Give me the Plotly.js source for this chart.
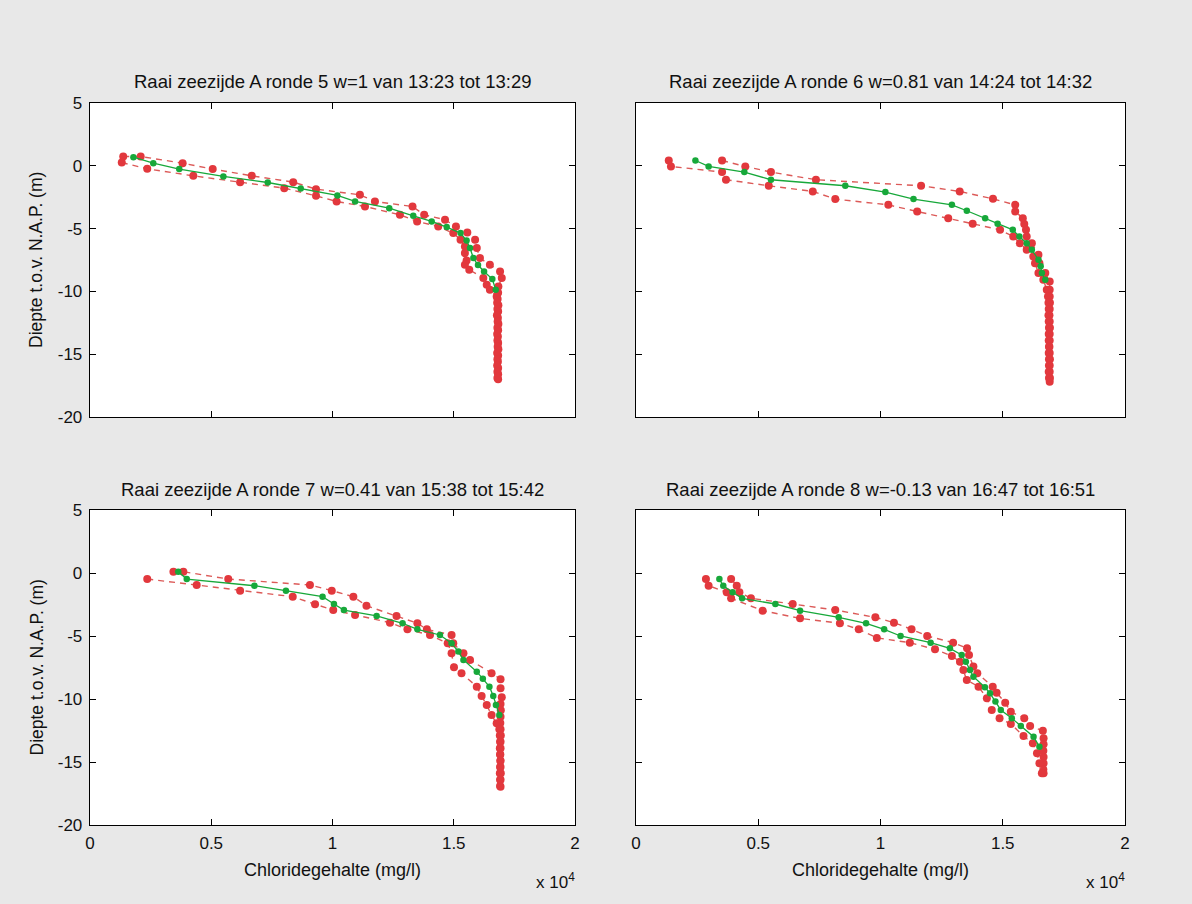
<!DOCTYPE html>
<html><head><meta charset="utf-8">
<script src="https://cdn.plot.ly/plotly-3.0.1.min.js"></script>
<style>html,body{margin:0;padding:0;background:#e8e8e8}</style>
</head><body>
<div id="chart" style="width:1192px;height:904px"></div>
<script>
// Depths (m t.o.v. N.A.P.) and chloride content (mg/l)
// Ronde 5
const r5_mean_cl = [1790,2610,3680,5500,7330,8690,10200,10930,12340,13330,14090,14710,15280,15530,15670,15810,16000,16250,16590,16730];
const r5_mean_d  = [0.69,0.21,-0.26,-0.85,-1.33,-1.81,-2.36,-2.84,-3.37,-3.98,-4.43,-4.88,-5.36,-5.95,-6.55,-7.35,-7.90,-8.41,-9.02,-9.87];
const r5_up_cl = [1370,2090,3820,5060,6670,8380,9320,11130,11750,13300,13780,14640,15090,15560,15880,15950,16080,16490,16910,16980,16840,16830,16810,16840,16830,16820,16840,16830,16820,16830,16840,16830,16820,16830,16830,16830];
const r5_up_d  = [0.74,0.74,0.21,-0.26,-0.80,-1.30,-1.86,-2.31,-2.84,-3.24,-3.90,-4.30,-4.83,-5.31,-5.89,-6.55,-7.35,-7.88,-8.41,-8.94,-9.61,-10.1,-10.6,-11.1,-11.6,-12.1,-12.6,-13.1,-13.6,-14.1,-14.6,-15.1,-15.6,-16.1,-16.6,-17.0];
const r5_lo_cl = [1310,2360,4260,6190,8010,9320,10170,11340,12780,13490,14360,14980,15280,15460,15460,15530,15460,15640,16220,16360,16490,16770,16790,16800,16780,16810,16800,16790,16800,16810,16790,16800,16790,16800,16800];
const r5_lo_d  = [0.26,-0.24,-0.80,-1.30,-1.78,-2.39,-2.84,-3.24,-3.90,-4.43,-4.83,-5.36,-5.89,-6.42,-6.95,-7.54,-7.88,-8.28,-8.94,-9.47,-9.87,-10.41,-10.9,-11.4,-11.9,-12.4,-12.9,-13.4,-13.9,-14.4,-14.9,-15.4,-15.9,-16.4,-16.9];
// Ronde 6
const r6_mean_cl = [2430,2970,4430,5520,8560,10200,11350,12920,13530,14280,14790,15410,15680,15980,16190,16460,16550,16600,16740];
const r6_mean_d  = [0.42,-0.05,-0.50,-1.11,-1.59,-2.09,-2.65,-3.11,-3.58,-4.17,-4.62,-5.10,-5.63,-6.16,-6.69,-7.48,-8.00,-8.54,-9.08];
const r6_up_cl = [3520,4470,5520,7360,11660,13240,14600,15510,15510,15820,15880,15950,15980,16190,16460,16500,16740,16920,16920,16920,16930,16920,16910,16920,16930,16920,16920,16910,16920,16930,16920,16920,16930,16920];
const r6_up_d  = [0.42,-0.05,-0.50,-1.11,-1.59,-2.04,-2.63,-3.11,-3.64,-4.17,-4.64,-5.10,-5.63,-6.16,-7.09,-7.75,-8.54,-9.21,-9.87,-10.4,-10.9,-11.4,-11.9,-12.4,-12.9,-13.4,-13.9,-14.4,-14.9,-15.4,-15.9,-16.4,-16.9,-17.2];
const r6_lo_cl = [1340,1430,3520,3680,5430,7230,8150,10320,11500,12770,13770,14890,15430,15700,15980,16250,16320,16460,16660,16800,16850,16870,16880,16870,16880,16890,16880,16880,16890,16880,16890,16890,16880,16890];
const r6_lo_d  = [0.42,-0.05,-0.50,-1.11,-1.59,-2.04,-2.65,-3.11,-3.64,-4.17,-4.62,-5.10,-5.63,-6.16,-6.69,-7.22,-7.75,-8.54,-9.08,-9.87,-10.4,-10.9,-11.4,-11.9,-12.4,-12.9,-13.4,-13.9,-14.4,-14.9,-15.4,-15.9,-16.4,-16.9];
// Ronde 7
const r7_mean_cl = [3640,3990,6780,8080,9590,10060,10470,11820,12890,13500,14430,14910,15190,15400,15950,16200,16470,16630,16740,16880];
const r7_mean_d  = [0.10,-0.48,-1.01,-1.40,-1.88,-2.46,-2.94,-3.41,-3.99,-4.47,-4.92,-5.58,-6.24,-6.90,-7.83,-8.40,-9.02,-9.76,-10.48,-11.27];
const r7_up_cl = [3440,3850,5700,9070,9970,10860,11400,12640,13500,13890,14910,14980,15400,15670,16560,16930,16930,16980,16930,16940,16930,16920,16930,16940,16930,16930,16920,16930,16930,16940,16930,16930];
const r7_up_d  = [0.10,0.10,-0.48,-0.95,-1.40,-1.88,-2.60,-3.41,-3.99,-4.47,-4.92,-5.58,-6.37,-6.90,-7.95,-8.43,-9.14,-9.86,-10.4,-10.9,-11.4,-11.9,-12.4,-12.9,-13.4,-13.9,-14.4,-14.9,-15.4,-15.9,-16.4,-16.96];
const r7_lo_cl = [2360,4400,6190,8360,9280,10030,10930,12370,13090,14020,14750,14910,15010,15320,15950,16150,16360,16560,16770,16880,16900,16910,16900,16910,16920,16910,16900,16910,16910];
const r7_lo_d  = [-0.48,-0.95,-1.40,-1.88,-2.48,-2.94,-3.33,-3.94,-4.47,-4.92,-5.58,-6.37,-7.48,-7.95,-9.02,-9.76,-10.48,-11.27,-11.93,-12.4,-12.9,-13.4,-13.9,-14.4,-14.9,-15.4,-15.9,-16.4,-16.9];
// Ronde 8
const r8_mean_cl = [3410,3570,3950,4340,5700,6710,8290,9410,10150,10820,12050,12840,13320,13490,13660,13800,14270,14480,14700,14920,15370,15740,16260,16500];
const r8_mean_d  = [-0.48,-1.01,-1.53,-2.01,-2.46,-2.99,-3.52,-3.99,-4.47,-5.00,-5.53,-5.98,-6.51,-7.04,-7.70,-8.23,-9.07,-9.55,-10.20,-10.87,-11.53,-12.14,-12.99,-13.78];
const r8_up_cl = [3890,4120,4230,4700,6410,8150,9790,10550,11270,11910,12970,13540,13620,13800,13960,14590,14750,15100,15330,15880,16120,16640,16670,16670,16660,16670,16670,16660,16670];
const r8_up_d  = [-0.48,-1.01,-1.53,-2.01,-2.46,-2.94,-3.52,-3.94,-4.47,-5.00,-5.53,-5.98,-6.51,-7.43,-7.96,-9.02,-9.50,-10.30,-11.01,-11.53,-12.14,-12.52,-13.12,-13.6,-14.1,-14.6,-15.1,-15.6,-15.9];
const r8_lo_cl = [2860,2970,3710,3890,5180,6710,8340,9110,9850,11200,12230,12920,13250,13390,13530,14010,14350,14550,14870,15330,15850,16230,16400,16500,16600];
const r8_lo_d  = [-0.48,-1.01,-1.53,-2.01,-2.99,-3.60,-3.99,-4.47,-5.15,-5.53,-6.06,-6.59,-7.04,-7.70,-8.49,-9.02,-9.94,-10.87,-11.53,-11.98,-12.94,-13.52,-14.31,-15.10,-15.90];

const panelTitles = [
  'Raai zeezijde A ronde 5 w=1 van 13:23 tot 13:29',
  'Raai zeezijde A ronde 6 w=0.81 van 14:24 tot 14:32',
  'Raai zeezijde A ronde 7 w=0.41 van 15:38 tot 15:42',
  'Raai zeezijde A ronde 8 w=-0.13 van 16:47 tot 16:51'
];
const xTickVals = [0,5000,10000,15000,20000];
const xTickText = ['0','0.5','1','1.5','2'];
const yTickVals = [-20,-15,-10,-5,0,5];
const yTickText = ['-20','-15','-10','-5','0','5'];
const yTitle = 'Diepte t.o.v. N.A.P. (m)';
const xTitle = 'Chloridegehalte (mg/l)';

const panels = [
  {up:[r5_up_cl,r5_up_d], lo:[r5_lo_cl,r5_lo_d], mean:[r5_mean_cl,r5_mean_d]},
  {up:[r6_up_cl,r6_up_d], lo:[r6_lo_cl,r6_lo_d], mean:[r6_mean_cl,r6_mean_d]},
  {up:[r7_up_cl,r7_up_d], lo:[r7_lo_cl,r7_lo_d], mean:[r7_mean_cl,r7_mean_d]},
  {up:[r8_up_cl,r8_up_d], lo:[r8_lo_cl,r8_lo_d], mean:[r8_mean_cl,r8_mean_d]}
];

const RED = '#e2383d', REDLINE = '#dc5a58', GREEN = '#17a83a';
const traces = [];
panels.forEach((p, i) => {
  const xa = i === 0 ? 'x' : 'x' + (i + 1);
  const ya = i === 0 ? 'y' : 'y' + (i + 1);
  [p.up, p.lo].forEach(s => traces.push({
    x: s[0], y: s[1], xaxis: xa, yaxis: ya, type: 'scatter', mode: 'lines+markers',
    line: {color: REDLINE, width: 1.4, dash: '6px,5px'},
    marker: {color: RED, size: 8}, showlegend: false, hoverinfo: 'x+y'
  }));
  traces.push({
    x: p.mean[0], y: p.mean[1], xaxis: xa, yaxis: ya, type: 'scatter', mode: 'lines+markers',
    line: {color: GREEN, width: 1.3},
    marker: {color: GREEN, size: 6.5}, showlegend: false, hoverinfo: 'x+y'
  });
});

const W = 1192, H = 904;
const boxes = [
  {l:90, r:575, t:103, b:417},
  {l:636, r:1125, t:103, b:417},
  {l:90, r:575, t:510, b:825},
  {l:636, r:1125, t:510, b:825}
];
const FONT = 'Liberation Sans, Arial, sans-serif';
const layout = {
  width: W, height: H,
  margin: {l:0, r:0, t:0, b:0},
  paper_bgcolor: '#e8e8e8', plot_bgcolor: '#ffffff',
  font: {family: FONT, size: 17, color: '#111'},
  showlegend: false,
  annotations: []
};
boxes.forEach((b, i) => {
  const sx = i === 0 ? 'xaxis' : 'xaxis' + (i + 1);
  const sy = i === 0 ? 'yaxis' : 'yaxis' + (i + 1);
  const ya = i === 0 ? 'y' : 'y' + (i + 1);
  const xa = i === 0 ? 'x' : 'x' + (i + 1);
  layout[sx] = {
    domain: [b.l / W, b.r / W], anchor: ya, range: [0, 20000],
    tickvals: xTickVals, ticktext: xTickText, ticks: 'inside', ticklen: 6,
    tickcolor: '#000', showline: true, linecolor: '#000', linewidth: 1.3,
    mirror: 'allticks', showgrid: false, zeroline: false,
    showticklabels: i >= 2, ticklabelstandoff: 2,
    tickfont: {family: FONT, size: 17, color: '#111'}
  };
  layout[sy] = {
    domain: [1 - b.b / H, 1 - b.t / H], anchor: xa, range: [-20, 5],
    tickvals: yTickVals, ticktext: yTickText, ticks: 'inside', ticklen: 6,
    tickcolor: '#000', showline: true, linecolor: '#000', linewidth: 1.3,
    mirror: 'allticks', showgrid: false, zeroline: false,
    showticklabels: i % 2 === 0, ticklabelstandoff: 3,
    tickfont: {family: FONT, size: 17, color: '#111'}
  };
  layout.annotations.push({
    text: panelTitles[i], xref: 'paper', yref: 'paper',
    x: (b.l + b.r) / 2 / W, y: 1 - (b.t - 21) / H, xanchor: 'center', yanchor: 'middle',
    showarrow: false, font: {family: FONT, size: 18.5, color: '#111'}
  });
  if (i % 2 === 0) {
    layout.annotations.push({
      text: yTitle, xref: 'paper', yref: 'paper', textangle: -90,
      x: 36 / W, y: 1 - ((b.t + b.b) / 2) / H, xanchor: 'center', yanchor: 'middle',
      showarrow: false, font: {family: FONT, size: 17.5, color: '#111'}
    });
  }
  if (i >= 2) {
    layout.annotations.push({
      text: xTitle, xref: 'paper', yref: 'paper',
      x: (b.l + b.r) / 2 / W, y: 1 - (b.b + 45) / H, xanchor: 'center', yanchor: 'middle',
      showarrow: false, font: {family: FONT, size: 18, color: '#111'}
    });
    layout.annotations.push({
      text: 'x 10<sup>4</sup>', xref: 'paper', yref: 'paper',
      x: (b.r + 2) / W, y: 1 - (b.b + 56) / H, xanchor: 'right', yanchor: 'middle',
      showarrow: false, font: {family: FONT, size: 17, color: '#111'}
    });
  }
});

Plotly.newPlot('chart', traces, layout, {displayModeBar: false, staticPlot: true});
</script>
</body></html>
